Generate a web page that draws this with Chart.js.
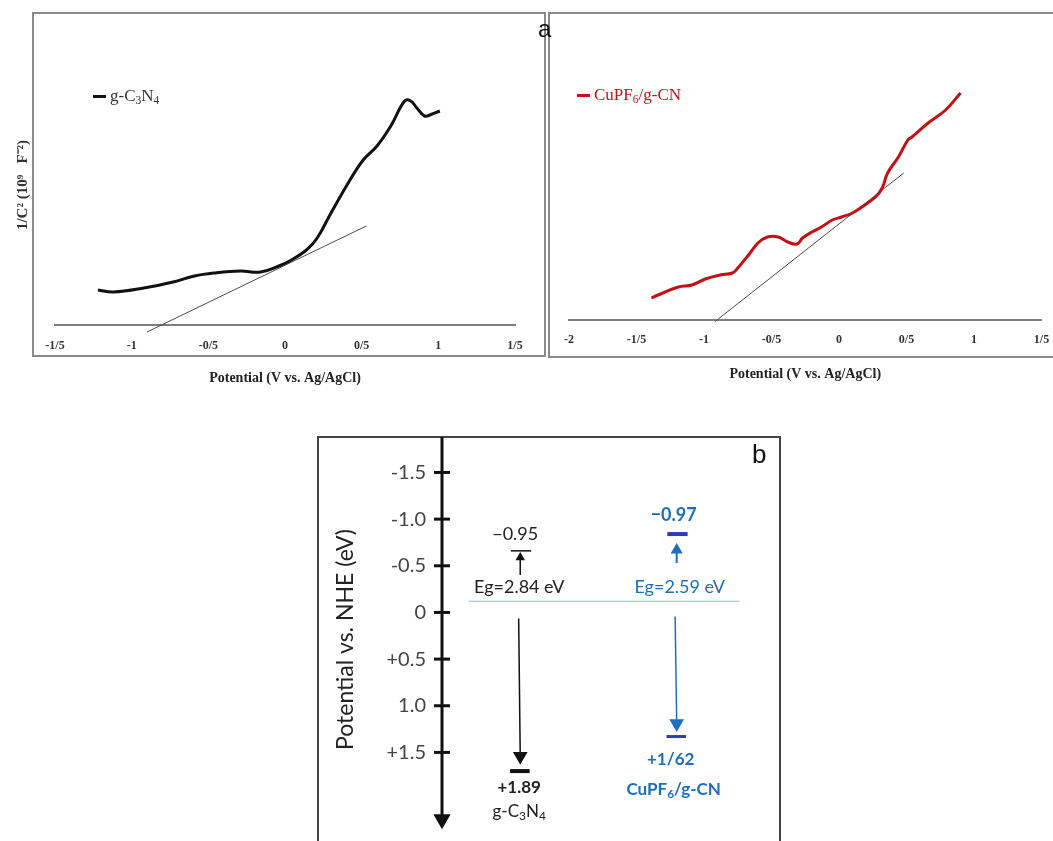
<!DOCTYPE html>
<html lang="en">
<head>
<meta charset="utf-8">
<title>Mott-Schottky plots and band positions</title>
<script src="https://cdn.jsdelivr.net/npm/chart.js@4.4.1/dist/chart.umd.min.js"></script>
<style>
  html, body { margin: 0; padding: 0; background: #fff; }
  body { position: relative; width: 1053px; height: 841px; overflow: hidden; }
  canvas, .frame, .tag, .key { position: absolute; }
  .frame { box-sizing: border-box; border: 2px solid #8a8a8a; }
  .tag { font: 24px "Liberation Sans", Arial, sans-serif; color: #111; line-height: 1; }
  .key { font: 17px "Liberation Serif", "Times New Roman", serif; line-height: 1; white-space: nowrap; }
  .key i { display: inline-block; width: 13px; height: 3px; vertical-align: middle; margin-right: 4px; position: relative; top: -1px; }
  .key sub { font-size: 0.68em; vertical-align: baseline; position: relative; top: 0.22em; }
</style>
</head>
<body>
<div class="frame" style="left:32px;top:12px;width:514px;height:345px"></div>
<div class="frame" style="left:548px;top:12px;width:520px;height:346px"></div>
<div class="frame" style="left:317px;top:436px;width:464px;height:420px;border-color:#444"></div>

<canvas id="mottLeft" width="547" height="400" style="left:0;top:0"></canvas>
<canvas id="mottRight" width="506" height="400" style="left:547px;top:0"></canvas>
<!-- the y axis keeps about half a label height free above and below the plot, so the canvas is taller -->
<canvas id="bands" width="462" height="427" style="left:318px;top:426px"></canvas>

<div class="key" style="left:93px;top:87px;color:#333"><i style="background:#111"></i>g-C<sub>3</sub>N<sub>4</sub></div>
<div class="key" style="left:577px;top:86px;color:#c40f14"><i style="background:#c40f14"></i>CuPF<sub>6</sub>/g-CN</div>
<div class="tag" style="left:538px;top:17px">a</div>
<div class="tag" style="left:752px;top:441px;font-size:26px">b</div>

<script>
// panel a, left: g-C3N4
const gcnPotential = [-1.22, -1.12, -0.92, -0.73, -0.59, -0.46, -0.29, -0.16, -0.04, 0.03, 0.14, 0.21,
  0.30, 0.42, 0.51, 0.60, 0.69, 0.78, 0.82, 0.86, 0.91, 0.96, 1.01];
const gcnInvC2 = [3.5, 3.3, 3.7, 4.3, 4.9, 5.2, 5.4, 5.3, 5.9, 6.4, 7.5, 8.7,
  11.2, 14.4, 16.5, 17.9, 19.9, 22.4, 22.4, 21.7, 20.9, 21.1, 21.4];
const gcnTangentPotential = [-0.90, 0.53];
const gcnTangentInvC2 = [-0.7, 9.9];
const gcnTickValues = [-1.5, -1, -0.5, 0, 0.5, 1, 1.5];
const gcnTickLabels = ['-1/5', '-1', '-0/5', '0', '0/5', '1', '1/5'];

// panel a, right: CuPF6/g-CN
const cuPotential = [-1.39, -1.34, -1.19, -1.09, -0.99, -0.88, -0.79, -0.75, -0.67, -0.60, -0.53, -0.45,
  -0.38, -0.31, -0.27, -0.20, -0.13, -0.05, 0.02, 0.10, 0.17, 0.27, 0.32, 0.36, 0.44, 0.51, 0.54, 0.66, 0.79, 0.90];
const cuInvC2 = [2.2, 2.5, 3.3, 3.5, 4.1, 4.5, 4.7, 5.2, 6.5, 7.7, 8.3, 8.3,
  7.8, 7.6, 8.2, 8.8, 9.3, 10.0, 10.3, 10.7, 11.3, 12.3, 13.2, 14.7, 16.3, 18.0, 18.3, 19.7, 21.0, 22.7];
const cuTangentPotential = [-0.92, 0.48];
const cuTangentInvC2 = [-0.17, 14.7];
const cuTickValues = [-2, -1.5, -1, -0.5, 0, 0.5, 1, 1.5];
const cuTickLabels = ['-2', '-1/5', '-1', '-0/5', '0', '0/5', '1', '1/5'];

// panel b: band edge diagram (potential vs NHE, drawn positions)
const bandTickValues = [-1.5, -1, -0.5, 0, 0.5, 1, 1.5];
const bandTickLabels = ['-1.5', '-1.0', '-0.5', '0', '+0.5', '1.0', '+1.5'];
const materialParts = [[['g-C', 0], ['3', 1], ['N', 0], ['4', 1]], [['CuPF', 0], ['6', 1], ['/g-CN', 0]]];
const columnX = [1, 2];
const cbLevel = [-0.66, -0.84];
const vbLevel = [1.70, 1.33];
const upArrowStart = [-0.40, -0.53];
const upArrowEnd = [-0.59, -0.67];
const downArrowStart = [0.065, 0.043];
const downArrowEnd = [1.54, 1.19];
const cbText = ['\u22120.95', '\u22120.97'];
const vbText = ['+1.89', '+1/62'];
const gapText = ['Eg=2.84 eV', 'Eg=2.59 eV'];
const zeroLine = -0.12;

const serif = '"Liberation Serif", "Times New Roman", serif';
const sans = 'Lato, "Open Sans", sans-serif';
const pts = (xs, ys) => xs.map((x, i) => ({ x, y: ys[i] }));
const seg = (x0, y0, x1, y1) => [{ x: x0, y: y0 }, { x: x1, y: y1 }];

function mottChart(id, o) {
  return new Chart(document.getElementById(id), {
    type: 'scatter',
    data: {
      datasets: [
        { data: pts(o.potential, o.invC2), showLine: true, borderColor: o.color, borderWidth: 3, tension: 0.4, pointRadius: 0 },
        { data: pts(o.tanX, o.tanY), showLine: true, borderColor: '#4a4a4a', borderWidth: 1, pointRadius: 0, clip: false }
      ]
    },
    options: {
      responsive: false,
      animation: false,
      events: [],
      layout: { padding: o.padding },
      plugins: { legend: { display: false }, tooltip: { enabled: false } },
      scales: {
        x: {
          type: 'linear',
          min: o.ticks[0],
          max: o.ticks[o.ticks.length - 1],
          afterBuildTicks: s => { s.ticks = o.ticks.map(value => ({ value })); },
          afterFit: s => { s.height = o.xAxisHeight; s.paddingLeft = 0; s.paddingRight = 0; },
          grid: { display: false, drawTicks: false },
          border: { color: '#7d7d7d', width: 2 },
          ticks: {
            autoSkip: false, maxRotation: 0, padding: o.tickPad, color: '#333',
            font: { family: serif, size: 12, weight: 'bold' },
            callback: (v, i) => o.labels[i]
          },
          title: {
            display: true, text: 'Potential (V vs. Ag/AgCl)', color: '#222',
            font: { family: serif, size: 14, weight: 'bold' },
            padding: { top: 0, bottom: o.titlePad }
          }
        },
        y: {
          display: !!o.yTitle,
          min: 0,
          max: 28,
          afterFit: s => { s.width = o.yTitle ? 55 : 0; },
          grid: { display: false, drawTicks: false },
          border: { display: false },
          ticks: { display: false },
          title: {
            display: !!o.yTitle, text: o.yTitle || '', color: '#333',
            font: { family: serif, size: 15, weight: 'bold' },
            padding: { top: 14, bottom: 0 }
          }
        }
      }
    }
  });
}

mottChart('mottLeft', {
  potential: gcnPotential, invC2: gcnInvC2, tanX: gcnTangentPotential, tanY: gcnTangentInvC2,
  ticks: gcnTickValues, labels: gcnTickLabels, color: '#111',
  padding: { top: 45, right: 32, left: 0, bottom: 0 }, xAxisHeight: 75, tickPad: 14, titlePad: 13,
  yTitle: '1/C\u00b2 (10\u2079   F\u207b\u00b2)'
});

mottChart('mottRight', {
  potential: cuPotential, invC2: cuInvC2, tanX: cuTangentPotential, tanY: cuTangentInvC2,
  ticks: cuTickValues, labels: cuTickLabels, color: '#c40f14',
  padding: { top: 40, right: 11.5, left: 22, bottom: 0 }, xAxisHeight: 80, tickPad: 13, titlePad: 17
});

// text with subscripts, centred on (cx, cy)
function drawRich(ctx, parts, cx, cy, size, weight, color) {
  const fontFor = sub => weight + ' ' + (sub ? Math.round(size * 0.68) : size) + 'px ' + sans;
  ctx.save();
  ctx.fillStyle = color;
  ctx.textBaseline = 'middle';
  ctx.textAlign = 'left';
  let total = 0;
  parts.forEach(([t, sub]) => { ctx.font = fontFor(sub); total += ctx.measureText(t).width; });
  let x = cx - total / 2;
  parts.forEach(([t, sub]) => {
    ctx.font = fontFor(sub);
    ctx.fillText(t, x, cy + (sub ? size * 0.28 : 0));
    x += ctx.measureText(t).width;
  });
  ctx.restore();
}

const notesPlugin = {
  id: 'notes',
  afterDatasetsDraw(chart, args, opts) {
    const { ctx, scales } = chart;
    (opts.items || []).forEach(n => {
      const px = scales.x.getPixelForValue(n.x) + (n.dx || 0);
      const py = scales.y.getPixelForValue(n.y) + (n.dy || 0);
      drawRich(ctx, n.parts, px, py, n.size, n.weight || 'normal', n.color);
    });
  }
};

const barColor = ['#111', '#2f3db0'];
const arrowColor = ['#111', '#1f6fc4'];
const textColor = ['#222', '#1b6ec2'];

const bandDatasets = [
  { data: seg(0.5, -1.88, 0.5, 2.215), showLine: true, borderColor: '#111', borderWidth: 3,
    pointRadius: [0, 7], pointStyle: 'triangle', pointRotation: 180,
    pointBackgroundColor: '#111', pointBorderColor: '#111', clip: false },
  { data: bandTickValues.map(v => ({ x: 0.5, y: v })), showLine: false, pointStyle: 'line',
    pointRadius: 8, pointBorderWidth: 3, pointBorderColor: '#111', clip: false },
  { data: seg(0.67, zeroLine, 2.4, zeroLine), showLine: true, borderColor: '#8ab8e6', borderWidth: 1, pointRadius: 0 }
];

columnX.forEach((cx, i) => {
  bandDatasets.push(
    { data: seg(cx - 0.06, cbLevel[i], cx + 0.07, cbLevel[i]), showLine: true, borderColor: barColor[i],
      borderWidth: i ? 4 : 1.5, pointRadius: 0 },
    { data: seg(cx - 0.065, vbLevel[i], cx + 0.06, vbLevel[i]), showLine: true, borderColor: barColor[i],
      borderWidth: i ? 3 : 4, pointRadius: 0 },
    { data: seg(cx, upArrowStart[i], cx, upArrowEnd[i]), showLine: true, borderColor: arrowColor[i],
      borderWidth: i ? 2 : 1.5, pointRadius: [0, i ? 5 : 4], pointStyle: 'triangle',
      pointBackgroundColor: arrowColor[i], pointBorderColor: arrowColor[i] },
    { data: seg(cx - 0.01, downArrowStart[i], cx, downArrowEnd[i]), showLine: true, borderColor: arrowColor[i],
      borderWidth: 1.5, pointRadius: [0, 7], pointStyle: 'triangle', pointRotation: 180,
      pointBackgroundColor: arrowColor[i], pointBorderColor: arrowColor[i] }
  );
});

const bandNotes = [
  { x: columnX[0], y: cbLevel[0], dx: -5, dy: -17, parts: [[cbText[0], 0]], size: 18, color: textColor[0] },
  { x: columnX[1], y: cbLevel[1], dx: -3, dy: -19, parts: [[cbText[1], 0]], size: 18, weight: 'bold', color: textColor[1] },
  { x: columnX[0], y: zeroLine, dx: -1, dy: -14, parts: [[gapText[0], 0]], size: 18, color: textColor[0] },
  { x: columnX[1], y: zeroLine, dx: 3, dy: -14, parts: [[gapText[1], 0]], size: 18, color: textColor[1] },
  { x: columnX[0], y: vbLevel[0], dx: -1, dy: 16, parts: [[vbText[0], 0]], size: 17, weight: 'bold', color: textColor[0] },
  { x: columnX[1], y: vbLevel[1], dx: -6, dy: 23, parts: [[vbText[1], 0]], size: 17, weight: 'bold', color: textColor[1] },
  { x: columnX[0], y: vbLevel[0], dx: -1, dy: 40, parts: materialParts[0], size: 17, color: textColor[0] },
  { x: columnX[1], y: vbLevel[1], dx: -3, dy: 53, parts: materialParts[1], size: 17, weight: 'bold', color: textColor[1] }
];

new Chart(document.getElementById('bands'), {
  type: 'scatter',
  data: { datasets: bandDatasets },
  options: {
    responsive: false,
    animation: false,
    events: [],
    layout: { padding: 0 },
    plugins: { legend: { display: false }, tooltip: { enabled: false }, notes: { items: bandNotes } },
    scales: {
      x: { display: false, type: 'linear', min: 0.5, max: 2.59 },
      y: {
        reverse: true,
        min: -1.88,
        max: 2.46,
        afterBuildTicks: s => { s.ticks = bandTickValues.map(value => ({ value })); },
        afterFit: s => { s.width = 124; s.paddingTop = 0; s.paddingBottom = 0; },
        grid: { display: false, drawTicks: false },
        border: { display: false },
        ticks: {
          autoSkip: false, padding: 16, color: '#444',
          font: { family: sans, size: 20 },
          callback: (v, i) => bandTickLabels[i]
        },
        title: {
          display: true, text: 'Potential vs. NHE (eV)', color: '#222',
          font: { family: sans, size: 23 },
          padding: { top: 14, bottom: 0 }
        }
      }
    }
  },
  plugins: [notesPlugin]
});
</script>
</body>
</html>
